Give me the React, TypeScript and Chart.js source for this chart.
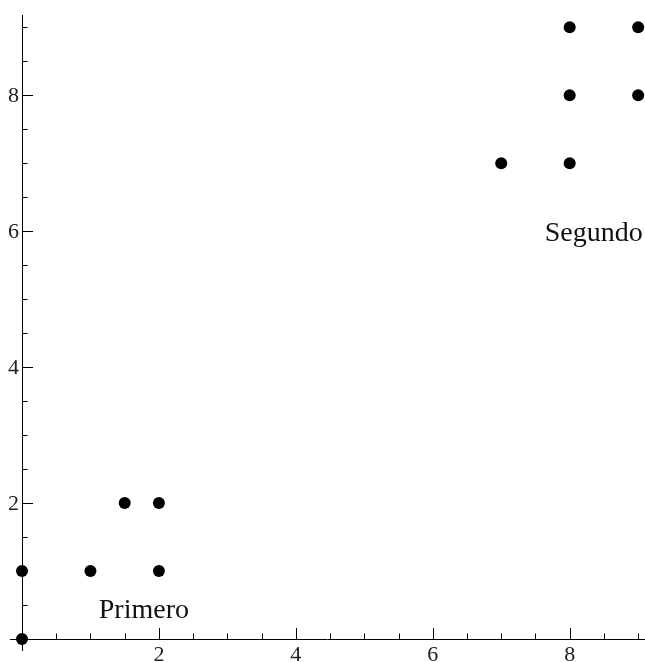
import React, { useEffect, useRef } from "react";
import { Chart, registerables } from "chart.js";

Chart.register(...registerables);

const pointsX = [0, 0, 1, 1.5, 2, 2, 7, 8, 8, 8, 9, 9];
const pointsY = [0, 1, 1, 2, 2, 1, 7, 7, 8, 9, 9, 8];

const xMajorTicks = [2, 4, 6, 8];
const yMajorTicks = [2, 4, 6, 8];
const xMinorTicks = [0.5, 1, 1.5, 2.5, 3, 3.5, 4.5, 5, 5.5, 6.5, 7, 7.5, 8.5, 9];
const yMinorTicks = [0.5, 1, 1.5, 2.5, 3, 3.5, 4.5, 5, 5.5, 6.5, 7, 7.5, 8.5, 9];

const labelTexts = ["Primero", "Segundo"];
const labelX = [1.78, 8.35];
const labelY = [0.31, 5.85];

const X_MIN = -0.175;
const X_MAX = 9.1;
const Y_MIN = -0.176;
const Y_MAX = 9.18;

const FONT = '"Liberation Serif", "DejaVu Serif", serif';

const axesPlugin = {
  id: "mmaAxes",
  beforeDatasetsDraw(chart: any) {
    const { ctx, chartArea } = chart;
    const xs = chart.scales.x;
    const ys = chart.scales.y;
    const x0 = xs.getPixelForValue(0);
    const y0 = ys.getPixelForValue(0);
    ctx.save();
    ctx.strokeStyle = "#000";
    ctx.lineWidth = 1;
    ctx.beginPath();
    ctx.moveTo(chartArea.left, Math.round(y0) + 0.5);
    ctx.lineTo(chartArea.right, Math.round(y0) + 0.5);
    ctx.moveTo(Math.round(x0) + 0.5, chartArea.top);
    ctx.lineTo(Math.round(x0) + 0.5, chartArea.bottom);
    ctx.stroke();

    const major = 11;
    const minor = 5.5;
    ctx.beginPath();
    xMajorTicks.forEach((v) => {
      const px = Math.round(xs.getPixelForValue(v)) + 0.5;
      ctx.moveTo(px, y0);
      ctx.lineTo(px, y0 - major);
    });
    xMinorTicks.forEach((v) => {
      const px = Math.round(xs.getPixelForValue(v)) + 0.5;
      ctx.moveTo(px, y0);
      ctx.lineTo(px, y0 - minor);
    });
    yMajorTicks.forEach((v) => {
      const py = Math.round(ys.getPixelForValue(v)) + 0.5;
      ctx.moveTo(x0, py);
      ctx.lineTo(x0 + major, py);
    });
    yMinorTicks.forEach((v) => {
      const py = Math.round(ys.getPixelForValue(v)) + 0.5;
      ctx.moveTo(x0, py);
      ctx.lineTo(x0 + minor, py);
    });
    ctx.stroke();

    ctx.fillStyle = "#222";
    ctx.font = `22px ${FONT}`;
    ctx.textAlign = "center";
    ctx.textBaseline = "alphabetic";
    xMajorTicks.forEach((v) => {
      ctx.fillText(String(v), xs.getPixelForValue(v), y0 + 22);
    });
    ctx.textAlign = "right";
    ctx.textBaseline = "middle";
    yMajorTicks.forEach((v) => {
      ctx.fillText(String(v), x0 - 3, ys.getPixelForValue(v) + 1);
    });
    ctx.restore();
  },
  afterDatasetsDraw(chart: any) {
    const { ctx } = chart;
    const xs = chart.scales.x;
    const ys = chart.scales.y;
    ctx.save();
    ctx.fillStyle = "#111";
    ctx.font = `28px ${FONT}`;
    ctx.textAlign = "center";
    ctx.textBaseline = "alphabetic";
    labelTexts.forEach((t, i) => {
      ctx.fillText(t, xs.getPixelForValue(labelX[i]), ys.getPixelForValue(labelY[i]));
    });
    ctx.restore();
  },
};

export default function App() {
  const ref = useRef<HTMLCanvasElement>(null);
  useEffect(() => {
    document.body.style.margin = "0";
    const canvas = ref.current!;
    const chart = new Chart(canvas, {
      type: "scatter",
      data: {
        datasets: [
          {
            data: pointsX.map((x, i) => ({ x, y: pointsY[i] })),
            backgroundColor: "#000",
            borderColor: "#000",
            pointRadius: 6,
            pointHoverRadius: 6,
            borderWidth: 0,
            clip: false as any,
          },
        ],
      },
      options: {
        animation: false,
        responsive: false,
        devicePixelRatio: 1,
        layout: { autoPadding: false, padding: { left: 10, right: 0, top: 15, bottom: 11 } },
        plugins: { legend: { display: false }, tooltip: { enabled: false } },
        events: [],
        scales: {
          x: { type: "linear", min: X_MIN, max: X_MAX, display: false },
          y: { type: "linear", min: Y_MIN, max: Y_MAX, display: false },
        },
      },
      plugins: [axesPlugin],
    });
    return () => chart.destroy();
  }, []);
  return (
    <div style={{ width: 645, height: 662 }}>
      <canvas ref={ref} width={645} height={662} style={{ display: "block", width: 645, height: 662 }} />
    </div>
  );
}
